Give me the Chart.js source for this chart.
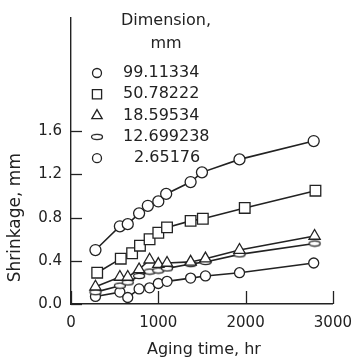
<!DOCTYPE html>
<html>
<head>
<meta charset="utf-8">
<script src="https://cdn.jsdelivr.net/npm/chart.js@4.4.1/dist/chart.umd.min.js"></script>
<style>
  html, body { margin: 0; padding: 0; background: #fff; }
  #wrap { width: 362px; height: 358px; }
</style>
</head>
<body>
<div id="wrap"><canvas id="shrink-chart" width="362" height="358"></canvas></div>
<script>
// 수축량 데이터
var dimLabels = ['99.11334', '50.78222', '18.59534', '12.699238', '2.65176'];

var hoursA = [280, 560, 650, 780, 880, 1000, 1090, 1370, 1500, 1930, 2780];
var shrinkA = [0.50, 0.72, 0.74, 0.84, 0.91, 0.95, 1.02, 1.13, 1.22, 1.34, 1.51];

var hoursB = [300, 570, 700, 790, 900, 1000, 1100, 1370, 1510, 1990, 2800];
var shrinkB = [0.29, 0.42, 0.47, 0.54, 0.60, 0.66, 0.71, 0.77, 0.79, 0.89, 1.05];

var hoursC = [280, 560, 650, 780, 900, 1000, 1100, 1370, 1540, 1930, 2790];
var shrinkC = [0.16, 0.25, 0.25, 0.32, 0.41, 0.37, 0.38, 0.39, 0.42, 0.50, 0.63];

var hoursD = [280, 560, 650, 780, 900, 1000, 1100, 1370, 1540, 1930, 2790];
var shrinkD = [0.11, 0.17, 0.20, 0.26, 0.30, 0.31, 0.33, 0.37, 0.39, 0.46, 0.56];

var hoursE = [280, 560, 650, 780, 900, 1000, 1100, 1370, 1540, 1930, 2780];
var shrinkE = [0.07, 0.11, 0.06, 0.14, 0.15, 0.19, 0.21, 0.24, 0.26, 0.29, 0.38];

var xTicks = [0, 1000, 2000, 3000];
var yTicks = [0, 0.4, 0.8, 1.2, 1.6];

var ink = '#222';
var fontName = '"DejaVu Sans", "Liberation Sans", Arial, sans-serif';

// 납작한 타원 마커
var ellipseMark = document.createElement('canvas');
ellipseMark.width = 14;
ellipseMark.height = 8;
(function () {
    var c = ellipseMark.getContext('2d');
    c.beginPath();
    c.ellipse(7, 4, 5.5, 2.6, 0, 0, Math.PI * 2);
    c.fillStyle = '#fff';
    c.fill();
    c.lineWidth = 1.3;
    c.strokeStyle = ink;
    c.stroke();
})();

var markStyles = ['circle', 'rect', 'triangle', ellipseMark, 'circle'];
var markRadius = [5.5, 7.5, 6.5, 5, 5];

function toPoints(xs, ys) {
    return xs.map(function (x, i) { return { x: x, y: ys[i] }; });
}

var seriesX = [hoursA, hoursB, hoursC, hoursD, hoursE];
var seriesY = [shrinkA, shrinkB, shrinkC, shrinkD, shrinkE];

var datasets = dimLabels.map(function (lab, i) {
    return {
        label: lab,
        data: toPoints(seriesX[i], seriesY[i]),
        showLine: true,
        borderColor: ink,
        borderWidth: 1.6,
        pointStyle: markStyles[i],
        pointRadius: markRadius[i],
        pointBackgroundColor: '#fff',
        pointBorderColor: ink,
        pointBorderWidth: 1.3
    };
});

// 안쪽 눈금, 축 제목, 범례를 그리는 플러그인
var decorPlugin = {
    id: 'decor',
    afterDraw: function (chart) {
        var ctx = chart.ctx;
        var area = chart.chartArea;
        var xs = chart.scales.x;
        var ys = chart.scales.y;
        ctx.save();
        ctx.strokeStyle = ink;
        ctx.lineWidth = 1.3;
        yTicks.forEach(function (v) {
            var py = Math.round(ys.getPixelForValue(v)) + 0.5;
            ctx.beginPath();
            ctx.moveTo(area.left, py);
            ctx.lineTo(area.left + 11, py);
            ctx.stroke();
        });
        xTicks.forEach(function (v) {
            var px = Math.round(xs.getPixelForValue(v)) + 0.5;
            ctx.beginPath();
            ctx.moveTo(px, area.bottom);
            ctx.lineTo(px, area.bottom - 13);
            ctx.stroke();
        });

        // 축 제목
        ctx.fillStyle = ink;
        ctx.font = '16px ' + fontName;
        ctx.textAlign = 'center';
        ctx.textBaseline = 'middle';
        ctx.fillText('Aging time, hr', (xs.getPixelForValue(0) + xs.getPixelForValue(3000)) / 2 + 2, 350);
        ctx.save();
        ctx.translate(16, (ys.getPixelForValue(0) + ys.getPixelForValue(1.6)) / 2);
        ctx.rotate(-Math.PI / 2);
        ctx.font = '17px ' + fontName;
        ctx.fillText('Shrinkage, mm', 0, 0);
        ctx.restore();

        // 범례
        ctx.font = '16px ' + fontName;
        ctx.fillText('Dimension,', 166, 21);
        ctx.fillText('mm', 166, 44);
        ctx.textAlign = 'left';
        chart.data.datasets.forEach(function (ds, i) {
            var ly = 73 + i * 21.3;
            ctx.fillStyle = '#fff';
            ctx.strokeStyle = ink;
            ctx.lineWidth = 1.3;
            Chart.helpers.drawPoint(ctx, {
                pointStyle: ds.pointStyle,
                radius: [4.5, 6.5, 6, 5, 4.5][i],
                borderWidth: 1.3,
                rotation: 0
            }, 97, ly);
            ctx.fillStyle = ink;
            ctx.fillText(ds.label, i === 4 ? 134 : 123, ly);
        });
        ctx.restore();
    }
};

var shrinkChart = new Chart(document.getElementById('shrink-chart'), {
    type: 'scatter',
    data: { datasets: datasets },
    options: {
        responsive: false,
        animation: false,
        layout: { padding: { top: 15, right: 19, left: 0, bottom: 0 } },
        plugins: {
            legend: { display: false },
            tooltip: { enabled: false }
        },
        scales: {
            x: {
                type: 'linear',
                min: 0,
                max: 3000,
                afterBuildTicks: function (s) {
                    s.ticks = xTicks.map(function (v) { return { value: v }; });
                },
                afterFit: function (s) { s.height = 54; },
                grid: { display: false, drawTicks: false },
                border: { display: true, color: ink, width: 1.4 },
                ticks: {
                    padding: 10,
                    color: ink,
                    font: { family: fontName, size: 15 },
                    maxRotation: 0,
                    callback: function (v) { return String(v); }
                }
            },
            y: {
                type: 'linear',
                min: 0,
                max: 2.65,
                afterBuildTicks: function (s) {
                    s.ticks = yTicks.map(function (v) { return { value: v }; });
                },
                afterFit: function (s) { s.width = 71; },
                grid: { display: false, drawTicks: false },
                border: { display: true, color: ink, width: 1.4 },
                ticks: {
                    padding: 9,
                    color: ink,
                    font: { family: fontName, size: 15 },
                    callback: function (v) { return v.toFixed(1); }
                }
            }
        }
    },
    plugins: [decorPlugin]
});
</script>
</body>
</html>
